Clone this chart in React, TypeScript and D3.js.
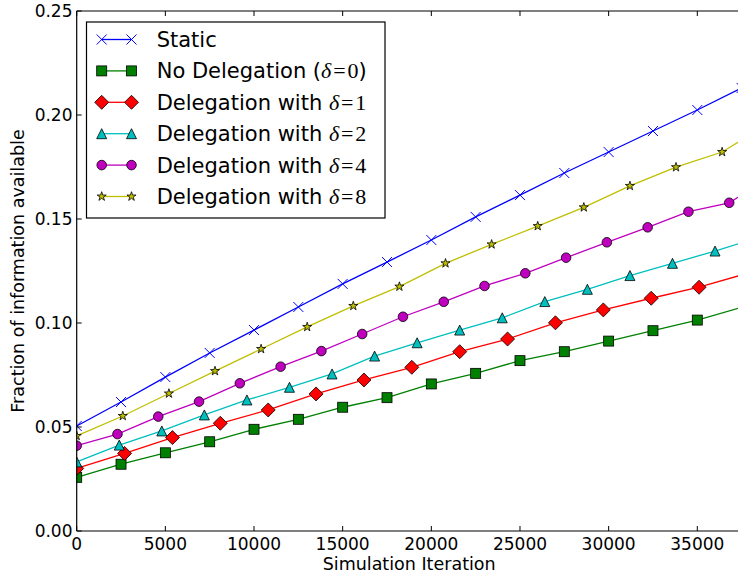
import React from "react";
import * as d3 from "d3";

const W = 738;
const H = 575;

const xTicks = [0, 5000, 10000, 15000, 20000, 25000, 30000, 35000];
const yTicks = [0, 0.05, 0.1, 0.15, 0.2, 0.25];
const xTickLabels = ["0", "5000", "10000", "15000", "20000", "25000", "30000", "35000"];
const yTickLabels = ["0.00", "0.05", "0.10", "0.15", "0.20", "0.25"];

const X_MAX = 37500;

// values at multiples of each series' marker step; tail = value at X_MAX
const staticValues = [0.0505, 0.062, 0.074, 0.0856, 0.0966, 0.1077, 0.1188, 0.1293, 0.1399, 0.151, 0.1615, 0.1721, 0.1822, 0.1923, 0.2024, 0.213];
const noDelegationValues = [0.0258, 0.0321, 0.0376, 0.0429, 0.0489, 0.0537, 0.0595, 0.0641, 0.0707, 0.0758, 0.0819, 0.0862, 0.0913, 0.0963, 0.1014];
const delta1Values = [0.0301, 0.0373, 0.0449, 0.0518, 0.0582, 0.0659, 0.0726, 0.0787, 0.0862, 0.0923, 0.1001, 0.1063, 0.1119, 0.1172];
const delta2Values = [0.0332, 0.0413, 0.0481, 0.0558, 0.063, 0.0691, 0.0755, 0.0841, 0.0905, 0.0966, 0.1025, 0.1103, 0.1162, 0.1228, 0.1287, 0.1346];
const delta4Values = [0.041, 0.0466, 0.055, 0.0622, 0.071, 0.079, 0.0865, 0.0947, 0.103, 0.1102, 0.1178, 0.1239, 0.1314, 0.1388, 0.146, 0.1535, 0.1578];
const delta8Values = [0.0457, 0.0553, 0.0661, 0.0769, 0.0875, 0.0981, 0.1082, 0.1175, 0.1287, 0.1378, 0.1466, 0.1556, 0.1659, 0.1749, 0.1822];

const seriesSteps = [2500, 2500, 2700, 2400, 2300, 2600];
const seriesTails = [0.213, 0.1075, 0.1231, 0.1386, 0.1615, 0.188];
const seriesColors = ["#0000ff", "#008000", "#ff0000", "#00bfbf", "#bf00bf", "#bfbf00"];
const seriesMarkers = ["x", "square", "diamond", "triangle", "circle", "star"];
const seriesLabels = ["Static", "No Delegation", "Delegation with", "Delegation with", "Delegation with", "Delegation with"];
const seriesDeltas = ["", "0", "1", "2", "4", "8"];
const seriesValues = [staticValues, noDelegationValues, delta1Values, delta2Values, delta4Values, delta8Values];

const FONT = "DejaVu Sans, sans-serif";
const MATH = "Liberation Serif, DejaVu Serif, serif";

function Marker({ type, x, y, color }: { type: string; x: number; y: number; color: string }) {
  const s = 5;
  const sw = 0.8;
  if (type === "x") {
    return (
      <path d={`M${x - s},${y - s}L${x + s},${y + s}M${x - s},${y + s}L${x + s},${y - s}`} stroke={color} strokeWidth={1} fill="none" />
    );
  }
  if (type === "square") {
    return <rect x={x - s} y={y - s} width={2 * s} height={2 * s} fill={color} stroke="#000" strokeWidth={sw} />;
  }
  if (type === "diamond") {
    const d = 7;
    return <path d={`M${x},${y - d}L${x + d},${y}L${x},${y + d}L${x - d},${y}Z`} fill={color} stroke="#000" strokeWidth={sw} />;
  }
  if (type === "triangle") {
    return <path d={`M${x},${y - s}L${x + s},${y + s}L${x - s},${y + s}Z`} fill={color} stroke="#000" strokeWidth={sw} />;
  }
  if (type === "circle") {
    return <circle cx={x} cy={y} r={4.8} fill={color} stroke="#000" strokeWidth={sw} />;
  }
  // star
  const pts: string[] = [];
  const ro = 4.8;
  const ri = ro * 0.382;
  for (let i = 0; i < 10; i++) {
    const r = i % 2 === 0 ? ro : ri;
    const a = (Math.PI / 5) * i - Math.PI / 2;
    pts.push(`${x + r * Math.cos(a)},${y + r * Math.sin(a)}`);
  }
  return <path d={`M${pts.join("L")}Z`} fill={color} stroke="#000" strokeWidth={sw} />;
}

export default function App() {
  const left = 76.7;
  const x = d3.scaleLinear().domain([0, 35000]).range([left, 697.3]);
  const right = x(X_MAX);
  const y = d3.scaleLinear().domain([0, 0.25]).range([531, 11]);
  const top = y(0.25);
  const bottom = y(0);

  const series = seriesValues.map((vals, i) => {
    const pts: [number, number][] = vals.map((v, k) => [k * seriesSteps[i], v]);
    const markers = pts.slice();
    if (pts[pts.length - 1][0] < X_MAX) pts.push([X_MAX, seriesTails[i]]);
    return { pts, markers, i };
  });

  const line = d3
    .line<[number, number]>()
    .x((d) => x(d[0]))
    .y((d) => y(d[1]));

  const legendX = 86.5;
  const legendY = 22;
  const legendW = 298.5;
  const legendH = 196;
  const rowY0 = 39.5;
  const rowDy = 31.4;

  return (
    <svg width={W} height={H} style={{ position: "fixed", left: 0, top: 0, background: "#fff" }}>
      <rect x={0} y={0} width={W} height={H} fill="#fff" />
      <defs>
        <clipPath id="plotClip">
          <rect x={left} y={top - 8} width={right - left + 6} height={bottom - top + 16} />
        </clipPath>
      </defs>

      <g clipPath="url(#plotClip)">
        {series.map((s) => (
          <path key={"l" + s.i} d={line(s.pts) || ""} fill="none" stroke={seriesColors[s.i]} strokeWidth={1.3} />
        ))}
        {series.map((s) =>
          s.markers.map((p, k) => (
            <Marker key={`m${s.i}-${k}`} type={seriesMarkers[s.i]} x={x(p[0])} y={y(p[1])} color={seriesColors[s.i]} />
          ))
        )}
      </g>

      {/* spines */}
      <line x1={left} y1={top} x2={W} y2={top} stroke="#000" strokeWidth={1.2} />
      <line x1={left} y1={bottom} x2={W} y2={bottom} stroke="#000" strokeWidth={1.2} />
      <line x1={left} y1={top} x2={left} y2={bottom} stroke="#000" strokeWidth={1.2} />

      {/* x ticks */}
      {xTicks.map((t, i) => (
        <g key={"xt" + t}>
          <line x1={x(t)} x2={x(t)} y1={bottom} y2={bottom - 5} stroke="#000" strokeWidth={1} />
          <line x1={x(t)} x2={x(t)} y1={top} y2={top + 5} stroke="#000" strokeWidth={1} />
          <text x={x(t)} y={549.5} textAnchor="middle" fontFamily={FONT} fontSize={17} fill="#000">
            {xTickLabels[i]}
          </text>
        </g>
      ))}
      {/* y ticks */}
      {yTicks.map((t, i) => (
        <g key={"yt" + t}>
          <line x1={left} x2={left + 5} y1={y(t)} y2={y(t)} stroke="#000" strokeWidth={1} />
          <text x={72.5} y={y(t) + 6.2} textAnchor="end" fontFamily={FONT} fontSize={17} fill="#000">
            {yTickLabels[i]}
          </text>
        </g>
      ))}

      <text x={(left + right) / 2} y={570} textAnchor="middle" fontFamily={FONT} fontSize={17.5} fill="#000">
        Simulation Iteration
      </text>
      <text
        transform={`translate(24, ${(top + bottom) / 2}) rotate(-90)`}
        textAnchor="middle"
        fontFamily={FONT}
        fontSize={17.5}
        fill="#000"
      >
        Fraction of information available
      </text>

      {/* legend */}
      <rect x={legendX} y={legendY} width={legendW} height={legendH} fill="#fff" stroke="#000" strokeWidth={1.2} />
      {seriesLabels.map((lab, i) => {
        const ry = rowY0 + i * rowDy;
        const hx1 = 101.7;
        const hx2 = 131.5;
        return (
          <g key={"lg" + i}>
            <line x1={hx1} x2={hx2} y1={ry} y2={ry} stroke={seriesColors[i]} strokeWidth={1.3} />
            <Marker type={seriesMarkers[i]} x={hx1} y={ry} color={seriesColors[i]} />
            <Marker type={seriesMarkers[i]} x={hx2} y={ry} color={seriesColors[i]} />
            <text x={156.7} y={ry + 7.5} fontFamily={FONT} fontSize={21} fill="#000">
              {i === 0 ? (
                lab
              ) : i === 1 ? (
                <>
                  {lab + " ("}
                  <tspan fontFamily={MATH} fontStyle="italic" fontSize={22}>δ</tspan>
                  <tspan fontFamily={MATH} fontSize={22}>{"\u200A=\u200A" + seriesDeltas[i]}</tspan>
                  {")"}
                </>
              ) : (
                <>
                  {lab + " "}
                  <tspan fontFamily={MATH} fontStyle="italic" fontSize={22}>δ</tspan>
                  <tspan fontFamily={MATH} fontSize={22}>{"\u200A=\u200A" + seriesDeltas[i]}</tspan>
                </>
              )}
            </text>
          </g>
        );
      })}
    </svg>
  );
}
